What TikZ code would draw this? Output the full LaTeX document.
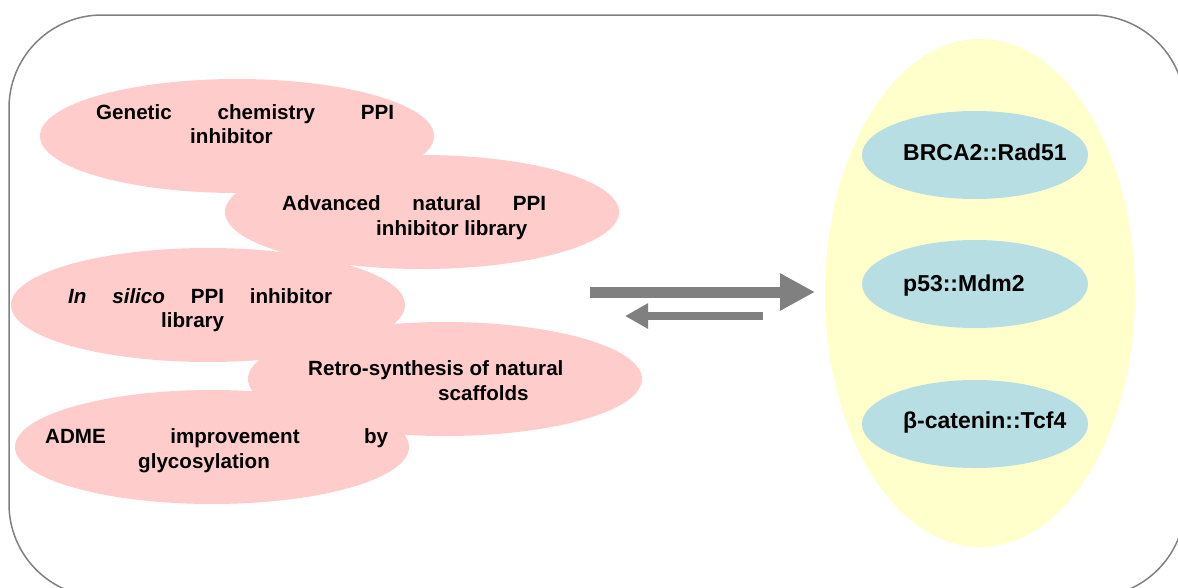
\documentclass[tikz,border=0pt]{standalone}
\usepackage{fontspec}
\setmainfont{Liberation Sans}
\usetikzlibrary{shapes.geometric,arrows.meta}
\definecolor{pinkfill}{HTML}{FFCCCC}
\definecolor{yellowfill}{HTML}{FFFFCC}
\definecolor{bluefill}{HTML}{B7DEE3}
\definecolor{greyline}{HTML}{808080}
\newcommand{\spreadline}[2]{\makebox[#1pt][s]{#2}}
\tikzset{
    lib/.style ={
        ellipse,
        fill=pinkfill,
        minimum width =394pt,
        minimum height =114pt,
        inner sep=0pt
    },
    target/.style ={
        ellipse,
        fill=bluefill,
        minimum width =226pt,
        minimum height =88pt,
        inner sep=0pt
    },
    libtext/.style ={
        anchor=base west,
        inner sep=0pt,
        font=\fontsize{20.6}{24.7}\selectfont\bfseries
    },
    targettext/.style ={
        anchor=base west,
        inner sep=0pt,
        font=\fontsize{23}{27}\selectfont\bfseries
    },
    bigarrow/.style ={
        draw=greyline,
        line width=11pt,
        -{Triangle[length=35pt,width=35pt]}
    },
    smallarrow/.style ={
        draw=greyline,
        line width=8pt,
        -{Triangle[length=23pt,width=24pt]}
    }
}

\begin{document}
\begin{tikzpicture}[x=1pt,y=-1pt]
        \clip (0,0) rectangle (1178,587);
        \draw[greyline, line width=1.5pt, rounded corners=93pt] (9,15) rectangle (1185,597);
        % libraries
        \node[lib] (GENETIC) at(237,136) {};
        \node[lib] (ADVANCED) at(422,212) {};
        \node[lib] (INSILICO) at(208,305) {};
        \node[lib] (RETRO) at(445,379) {};
        \node[lib] (ADME) at(212,447) {};
        \node[libtext] (GENETIC1) at(96,119) {\spreadline{298}{Genetic chemistry PPI}};
        \node[libtext] (GENETIC2) at(190,143) {inhibitor};
        \node[libtext] (ADVANCED1) at(282,210) {\spreadline{264}{Advanced natural PPI}};
        \node[libtext] (ADVANCED2) at(376,235) {inhibitor library};
        \node[libtext] (INSILICO1) at(68,303) {\spreadline{264}{\itshape In silico \upshape PPI inhibitor}};
        \node[libtext] (INSILICO2) at(161,327) {library};
        \node[libtext] (RETRO1) at(308,375) {Retro-synthesis of natural};
        \node[libtext] (RETRO2) at(438,400) {scaffolds};
        \node[libtext] (ADME1) at(45,443) {\spreadline{343}{ADME improvement by}};
        \node[libtext] (ADME2) at(138,468) {glycosylation};
        % targets
        \node[ellipse, fill=yellowfill, minimum width=310pt, minimum height=508pt, inner sep=0pt] (PPI) at(980,293) {};
        \node[target] (BRCA) at(975,155) {};
        \node[target] (PFIFTY) at(975,284) {};
        \node[target] (BCAT) at(975,424) {};
        \node[targettext] (BRCAT) at(903,160) {BRCA2::Rad51};
        \node[targettext] (PFIFTYT) at(903,291) {p53::Mdm2};
        \node[targettext] (BCATT) at(903,428) {β-catenin::Tcf4};
        % arrows
        \coordinate (FWDS) at(590,292);
        \coordinate (FWDE) at(815,292);
        \coordinate (BCKS) at(763,316);
        \coordinate (BCKE) at(625,316);
        \draw[bigarrow] (FWDS)--(FWDE);
        \draw[smallarrow] (BCKS)--(BCKE);
    \end{tikzpicture}
\end{document}
